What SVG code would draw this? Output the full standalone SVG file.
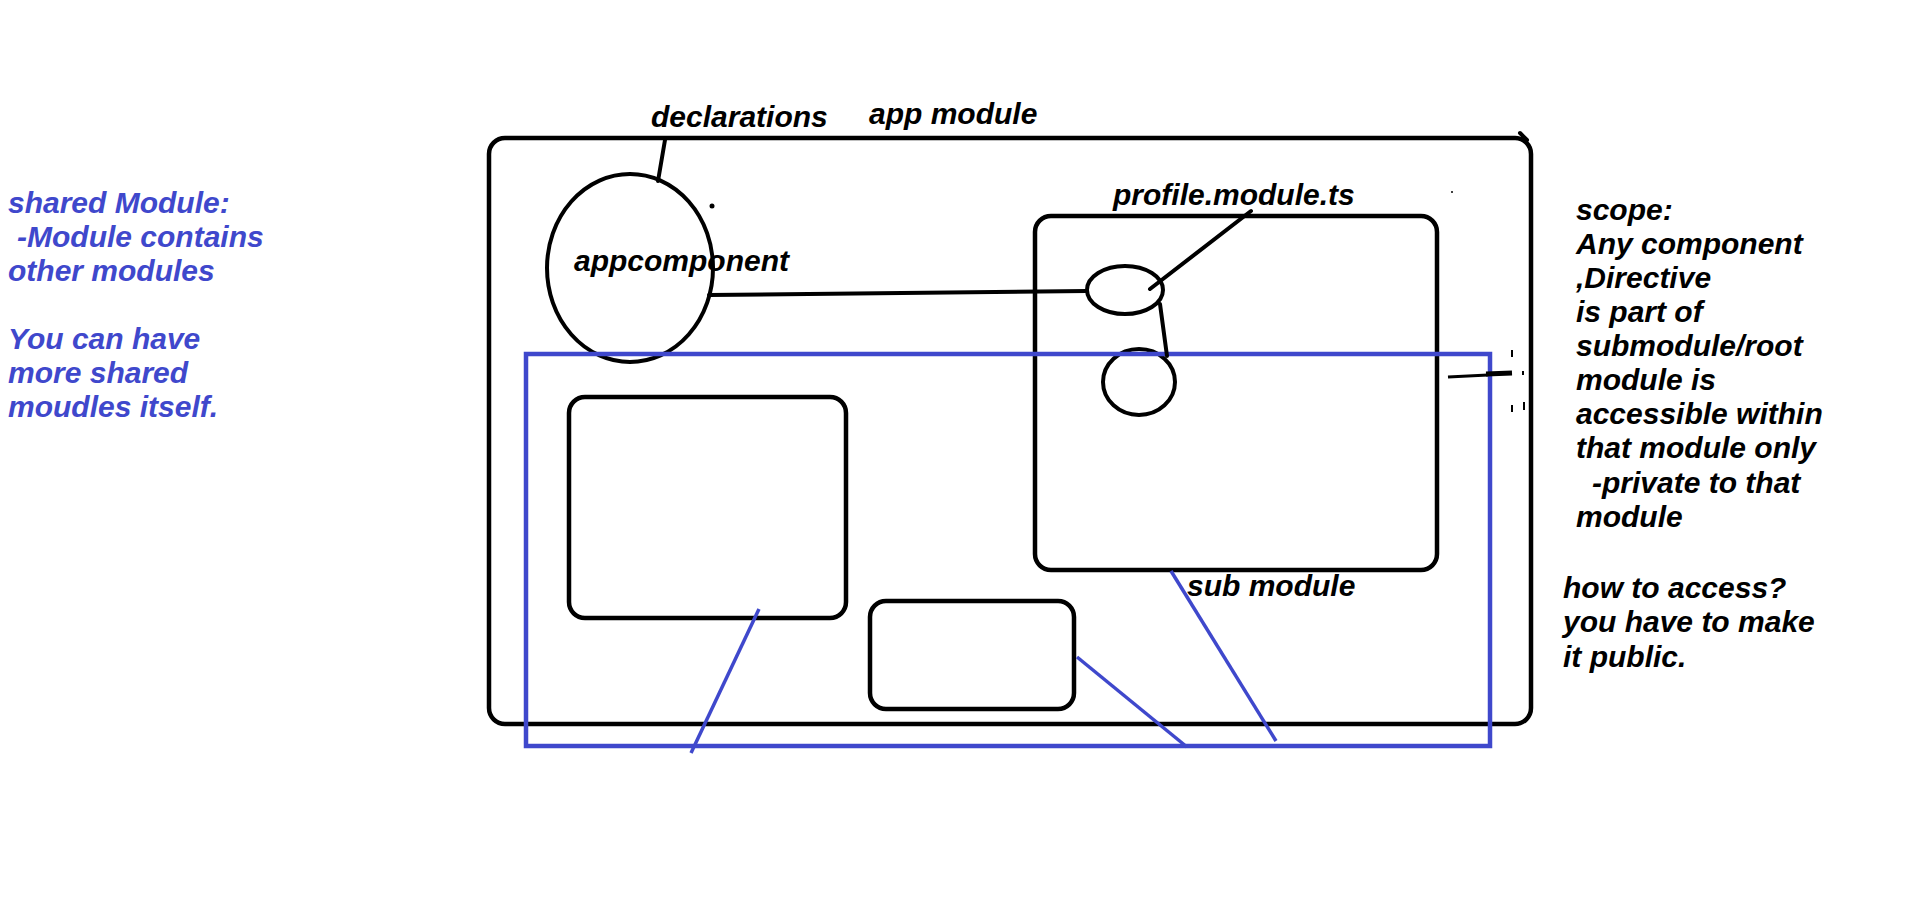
<svg xmlns="http://www.w3.org/2000/svg" width="1914" height="903" viewBox="0 0 1914 903">
<style>
  text { font-family: "Liberation Sans", Arial, sans-serif; font-weight: bold; font-style: italic; font-size: 30px; }
  .blk { fill: #000; }
  .blu { fill: #3F48CC; }
  .shape { fill: none; stroke: #000; stroke-width: 4.5; }
  .thin { fill: none; stroke: #000; stroke-width: 4; }
  .bbox { fill: none; stroke: #3F48CC; stroke-width: 4.5; }
  .bline { fill: none; stroke: #3F48CC; stroke-width: 3.5; }
  .conn { stroke: #000; stroke-width: 4; stroke-linecap: round; }
</style>
<rect width="1914" height="903" fill="#fff"/>

<g id="shared-module-note">
  <text class="blu" x="8" y="213">shared Module:</text>
  <text class="blu" x="17" y="247">-Module contains</text>
  <text class="blu" x="8" y="281">other modules</text>
  <text class="blu" x="8" y="349">You can have</text>
  <text class="blu" x="8" y="383">more shared</text>
  <text class="blu" x="8" y="417">moudles itself.</text>
</g>

<g id="app-module">
  <rect class="shape" x="489" y="138" width="1042" height="586" rx="16"/>
  <text class="blk" x="869" y="124">app module</text>
  <path d="M1520,133 L1527,140" class="conn" stroke-width="3"/>
</g>

<g id="appcomponent">
  <ellipse class="thin" cx="630" cy="268" rx="83" ry="94"/>
  <text class="blk" x="574" y="271">appcomponent</text>
</g>

<g id="declarations">
  <text class="blk" x="651" y="127">declarations</text>
</g>

<g id="profile-module">
  <rect class="shape" x="1035" y="216" width="402" height="354" rx="16"/>
  <text class="blk" x="1113" y="205">profile.module.ts</text>
</g>

<g id="profile-ellipse-1">
  <ellipse class="thin" cx="1125" cy="290" rx="38" ry="24"/>
</g>
<g id="profile-ellipse-2">
  <ellipse class="thin" cx="1139" cy="382" rx="36" ry="33"/>
</g>

<g id="inner-rect-left">
  <rect class="shape" x="569" y="397" width="277" height="221" rx="16"/>
</g>
<g id="inner-rect-small">
  <rect class="shape" x="870" y="601" width="204" height="108" rx="16"/>
</g>

<g id="sub-module">
  <rect class="bbox" x="526" y="354" width="964" height="392"/>
  <text class="blk" x="1187" y="596">sub module</text>
</g>

<g id="marks">
  <circle cx="712" cy="206" r="2.5" fill="#000"/>
  <circle cx="1452" cy="192" r="1" fill="#000"/>
  <path d="M1448,377 L1488,375" stroke="#000" stroke-width="3" fill="none"/>
  <path d="M1486,374 L1512,373" stroke="#000" stroke-width="5" fill="none"/>
  <path d="M1512,350 L1512,357 M1523,371 L1523,375 M1512,405 L1512,412 M1524,402 L1524,410" stroke="#000" stroke-width="2" fill="none"/>
</g>

<g id="connectors">
  <line class="conn" x1="665" y1="140" x2="658" y2="181"/>
  <line class="conn" x1="709" y1="295" x2="1087" y2="291"/>
  <line class="conn" x1="1251" y1="211" x2="1150" y2="289"/>
  <line class="conn" x1="1160" y1="304" x2="1167" y2="356"/>
  <line class="bline" x1="759" y1="609" x2="691" y2="753"/>
  <line class="bline" x1="1077" y1="657" x2="1187" y2="747"/>
  <line class="bline" x1="1171" y1="571" x2="1276" y2="741"/>
</g>

<g id="scope-note">
  <text class="blk" x="1576" y="220">scope:</text>
  <text class="blk" x="1576" y="254">Any component</text>
  <text class="blk" x="1576" y="288">,Directive</text>
  <text class="blk" x="1576" y="322">is part of</text>
  <text class="blk" x="1576" y="356">submodule/root</text>
  <text class="blk" x="1576" y="390">module is</text>
  <text class="blk" x="1576" y="424">accessible within</text>
  <text class="blk" x="1576" y="458">that module only</text>
  <text class="blk" x="1592" y="493">-private to that</text>
  <text class="blk" x="1576" y="527">module</text>
  <text class="blk" x="1563" y="598">how to access?</text>
  <text class="blk" x="1563" y="632">you have to make</text>
  <text class="blk" x="1563" y="667">it public.</text>
</g>
</svg>
